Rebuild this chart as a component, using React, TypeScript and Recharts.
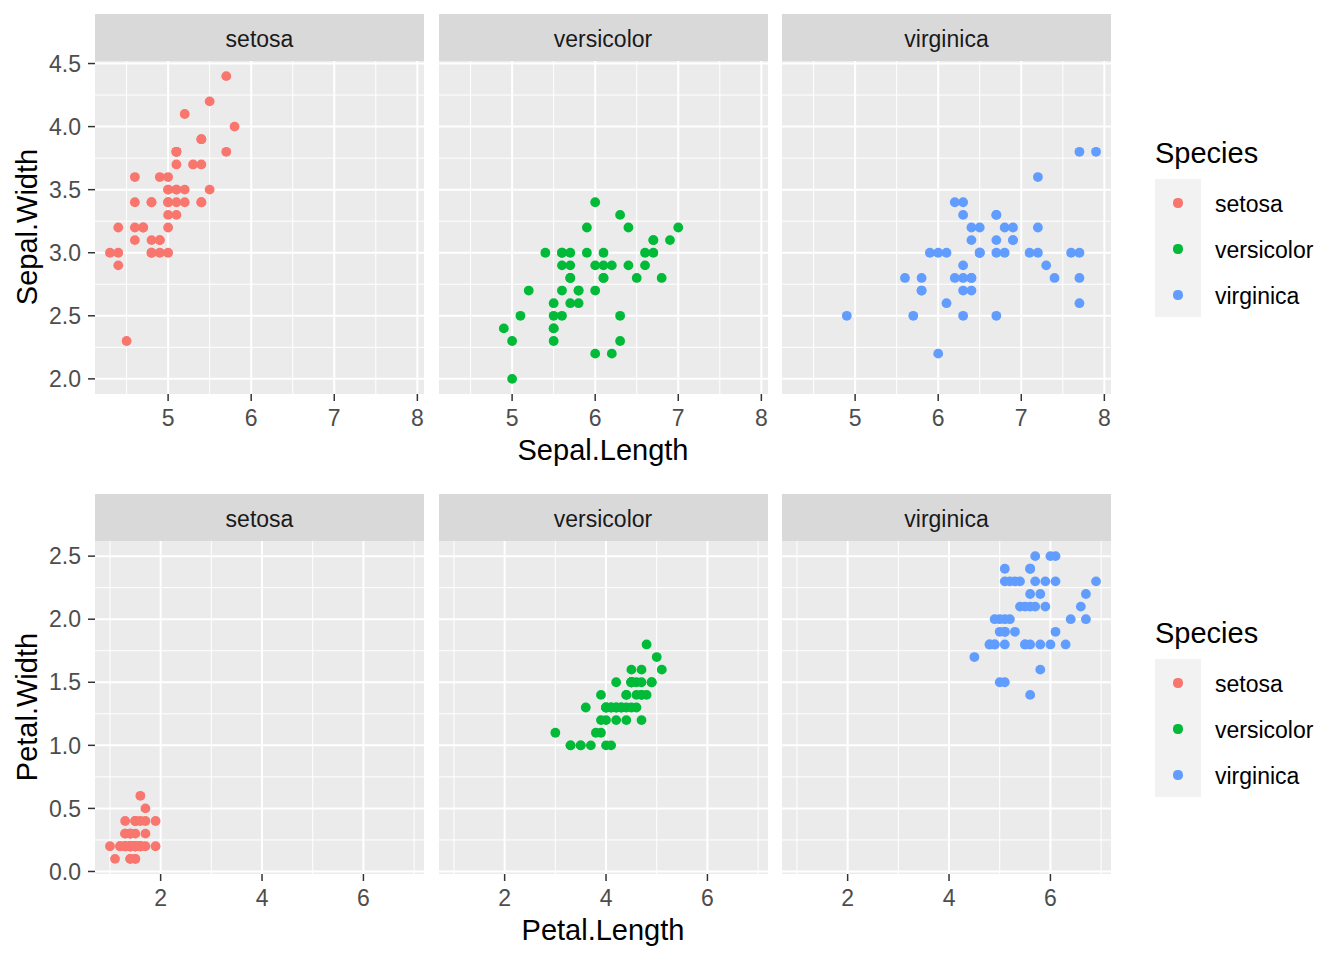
import { ScatterChart, Scatter, XAxis, YAxis, ReferenceLine } from "recharts";

const SPECIES = ["setosa", "versicolor", "virginica"];
const COLORS = ["#F8766D", "#00BA38", "#619CFF"];

const setosaSepalLength = [5.1, 4.9, 4.7, 4.6, 5.0, 5.4, 4.6, 5.0, 4.4, 4.9, 5.4, 4.8, 4.8, 4.3, 5.8, 5.7, 5.4, 5.1, 5.7, 5.1, 5.4, 5.1, 4.6, 5.1, 4.8, 5.0, 5.0, 5.2, 5.2, 4.7, 4.8, 5.4, 5.2, 5.5, 4.9, 5.0, 5.5, 4.9, 4.4, 5.1, 5.0, 4.5, 4.4, 5.0, 5.1, 4.8, 5.1, 4.6, 5.3, 5.0];
const setosaSepalWidth = [3.5, 3.0, 3.2, 3.1, 3.6, 3.9, 3.4, 3.4, 2.9, 3.1, 3.7, 3.4, 3.0, 3.0, 4.0, 4.4, 3.9, 3.5, 3.8, 3.8, 3.4, 3.7, 3.6, 3.3, 3.4, 3.0, 3.4, 3.5, 3.4, 3.2, 3.1, 3.4, 4.1, 4.2, 3.1, 3.2, 3.5, 3.6, 3.0, 3.4, 3.5, 2.3, 3.2, 3.5, 3.8, 3.0, 3.8, 3.2, 3.7, 3.3];
const setosaPetalLength = [1.4, 1.4, 1.3, 1.5, 1.4, 1.7, 1.4, 1.5, 1.4, 1.5, 1.5, 1.6, 1.4, 1.1, 1.2, 1.5, 1.3, 1.4, 1.7, 1.5, 1.7, 1.5, 1.0, 1.7, 1.9, 1.6, 1.6, 1.5, 1.4, 1.6, 1.6, 1.5, 1.5, 1.4, 1.5, 1.2, 1.3, 1.4, 1.3, 1.5, 1.3, 1.3, 1.3, 1.6, 1.9, 1.4, 1.6, 1.4, 1.5, 1.4];
const setosaPetalWidth = [0.2, 0.2, 0.2, 0.2, 0.2, 0.4, 0.3, 0.2, 0.2, 0.1, 0.2, 0.2, 0.1, 0.1, 0.2, 0.4, 0.4, 0.3, 0.3, 0.3, 0.2, 0.4, 0.2, 0.5, 0.2, 0.2, 0.4, 0.2, 0.2, 0.2, 0.2, 0.4, 0.1, 0.2, 0.2, 0.2, 0.2, 0.1, 0.2, 0.2, 0.3, 0.3, 0.2, 0.6, 0.4, 0.3, 0.2, 0.2, 0.2, 0.2];

const versicolorSepalLength = [7.0, 6.4, 6.9, 5.5, 6.5, 5.7, 6.3, 4.9, 6.6, 5.2, 5.0, 5.9, 6.0, 6.1, 5.6, 6.7, 5.6, 5.8, 6.2, 5.6, 5.9, 6.1, 6.3, 6.1, 6.4, 6.6, 6.8, 6.7, 6.0, 5.7, 5.5, 5.5, 5.8, 6.0, 5.4, 6.0, 6.7, 6.3, 5.6, 5.5, 5.5, 6.1, 5.8, 5.0, 5.6, 5.7, 5.7, 6.2, 5.1, 5.7];
const versicolorSepalWidth = [3.2, 3.2, 3.1, 2.3, 2.8, 2.8, 3.3, 2.4, 2.9, 2.7, 2.0, 3.0, 2.2, 2.9, 2.9, 3.1, 3.0, 2.7, 2.2, 2.5, 3.2, 2.8, 2.5, 2.8, 2.9, 3.0, 2.8, 3.0, 2.9, 2.6, 2.4, 2.4, 2.7, 2.7, 3.0, 3.4, 3.1, 2.3, 3.0, 2.5, 2.6, 3.0, 2.6, 2.3, 2.7, 3.0, 2.9, 2.9, 2.5, 2.8];
const versicolorPetalLength = [4.7, 4.5, 4.9, 4.0, 4.6, 4.5, 4.7, 3.3, 4.6, 3.9, 3.5, 4.2, 4.0, 4.7, 3.6, 4.4, 4.5, 4.1, 4.5, 3.9, 4.8, 4.0, 4.9, 4.7, 4.3, 4.4, 4.8, 5.0, 4.5, 3.5, 3.8, 3.7, 3.9, 5.1, 4.5, 4.5, 4.7, 4.4, 4.1, 4.0, 4.4, 4.6, 4.0, 3.3, 4.2, 4.2, 4.2, 4.3, 3.0, 4.1];
const versicolorPetalWidth = [1.4, 1.5, 1.5, 1.3, 1.5, 1.3, 1.6, 1.0, 1.3, 1.4, 1.0, 1.5, 1.0, 1.4, 1.3, 1.4, 1.5, 1.0, 1.5, 1.1, 1.8, 1.3, 1.5, 1.2, 1.3, 1.4, 1.4, 1.7, 1.5, 1.0, 1.1, 1.0, 1.2, 1.6, 1.5, 1.6, 1.5, 1.3, 1.3, 1.3, 1.2, 1.4, 1.2, 1.0, 1.3, 1.2, 1.3, 1.3, 1.1, 1.3];

const virginicaSepalLength = [6.3, 5.8, 7.1, 6.3, 6.5, 7.6, 4.9, 7.3, 6.7, 7.2, 6.5, 6.4, 6.8, 5.7, 5.8, 6.4, 6.5, 7.7, 7.7, 6.0, 6.9, 5.6, 7.7, 6.3, 6.7, 7.2, 6.2, 6.1, 6.4, 7.2, 7.4, 7.9, 6.4, 6.3, 6.1, 7.7, 6.3, 6.4, 6.0, 6.9, 6.7, 6.9, 5.8, 6.8, 6.7, 6.7, 6.3, 6.5, 6.2, 5.9];
const virginicaSepalWidth = [3.3, 2.7, 3.0, 2.9, 3.0, 3.0, 2.5, 2.9, 2.5, 3.6, 3.2, 2.7, 3.0, 2.5, 2.8, 3.2, 3.0, 3.8, 2.6, 2.2, 3.2, 2.8, 2.8, 2.7, 3.3, 3.2, 2.8, 3.0, 2.8, 3.0, 2.8, 3.8, 2.8, 2.8, 2.6, 3.0, 3.4, 3.1, 3.0, 3.1, 3.1, 3.1, 2.7, 3.2, 3.3, 3.0, 2.5, 3.0, 3.4, 3.0];
const virginicaPetalLength = [6.0, 5.1, 5.9, 5.6, 5.8, 6.6, 4.5, 6.3, 5.8, 6.1, 5.1, 5.3, 5.5, 5.0, 5.1, 5.3, 5.5, 6.7, 6.9, 5.0, 5.7, 4.9, 6.7, 4.9, 5.7, 6.0, 4.8, 4.9, 5.6, 5.8, 6.1, 6.4, 5.6, 5.1, 5.6, 6.1, 5.6, 5.5, 4.8, 5.4, 5.6, 5.1, 5.1, 5.9, 5.7, 5.2, 5.0, 5.2, 5.4, 5.1];
const virginicaPetalWidth = [2.5, 1.9, 2.1, 1.8, 2.2, 2.1, 1.7, 1.8, 1.8, 2.5, 2.0, 1.9, 2.1, 2.0, 2.4, 2.3, 1.8, 2.2, 2.3, 1.5, 2.3, 2.0, 2.0, 1.8, 2.1, 1.8, 1.8, 1.8, 2.1, 1.6, 1.9, 2.0, 2.2, 1.5, 1.4, 2.3, 2.4, 1.8, 1.8, 2.1, 2.4, 2.3, 1.9, 2.3, 2.5, 2.3, 1.9, 2.0, 2.3, 1.8];

// axis ticks / limits (ggplot default 5% expansion)
const sepalXTicks = [5, 6, 7, 8];
const sepalXMinor = [4.5, 5.5, 6.5, 7.5];
const sepalYTicks = [2.0, 2.5, 3.0, 3.5, 4.0, 4.5];
const sepalYMinor = [2.25, 2.75, 3.25, 3.75, 4.25];
const sepalXDomain = [4.12, 8.08];
const sepalYDomain = [1.88, 4.52];

const petalXTicks = [2, 4, 6];
const petalXMinor = [1, 3, 5, 7];
const petalYTicks = [0.0, 0.5, 1.0, 1.5, 2.0, 2.5];
const petalYMinor = [0.25, 0.75, 1.25, 1.75, 2.25];
const petalXDomain = [0.705, 7.195];
const petalYDomain = [-0.02, 2.62];

const FONT = "'Liberation Sans', Arial, Helvetica, sans-serif";
const PANEL_LEFTS = [95, 438.5, 782];
const PANEL_W = 329;
const PANEL_H = 333;
const STRIP_H = 46.5;
const AXIS_H = 60;
const PAD_TOP = 20;

const zip = (xs: number[], ys: number[]) => xs.map((x, i) => ({ x, y: ys[i] }));

interface FacetRowProps {
  top: number;
  xTitle: string;
  yTitle: string;
  xs: number[][];
  ys: number[][];
  xTicks: number[];
  xMinor: number[];
  yTicks: number[];
  yMinor: number[];
  xDomain: number[];
  yDomain: number[];
}

const FacetRow = (p: FacetRowProps) => {
  const panelTop = p.top + 14 + STRIP_H;
  return (
    <>
      {SPECIES.map((name, i) => {
        const left = PANEL_LEFTS[i];
        const withY = i === 0;
        const chartLeft = withY ? 0 : left;
        const chartW = withY ? left + PANEL_W : PANEL_W;
        return (
          <div key={name}>
            <div
              style={{
                position: "absolute", left, top: p.top + 14, width: PANEL_W, height: STRIP_H,
                background: "#D9D9D9", color: "#1A1A1A", fontSize: 23, lineHeight: STRIP_H + 4 + "px",
                textAlign: "center",
              }}
            >
              {name}
            </div>
            <div style={{ position: "absolute", left, top: panelTop, width: PANEL_W, height: PANEL_H, background: "#EBEBEB" }} />
            <div style={{ position: "absolute", left: chartLeft, top: panelTop - PAD_TOP }}>
              <ScatterChart width={chartW} height={PANEL_H + AXIS_H + PAD_TOP} margin={{ top: PAD_TOP, right: 0, bottom: 0, left: 0 }}>
                <XAxis
                  type="number" dataKey="x" domain={p.xDomain} ticks={p.xTicks} allowDataOverflow interval={0}
                  height={AXIS_H} axisLine={false} tickSize={7} tickMargin={9}
                  tickLine={{ stroke: "#333333", strokeWidth: 1.5 }}
                  tick={{ fill: "#4D4D4D", fontSize: 23, fontFamily: FONT }}
                />
                <YAxis
                  type="number" dataKey="y" domain={p.yDomain} ticks={p.yTicks} allowDataOverflow interval={0}
                  hide={!withY} width={left} axisLine={false} tickSize={7} tickMargin={7}
                  tickFormatter={(v: number) => v.toFixed(1)}
                  tickLine={{ stroke: "#333333", strokeWidth: 1.5 }}
                  tick={{ fill: "#4D4D4D", fontSize: 23, fontFamily: FONT }}
                />
                {p.xMinor.map((v) => <ReferenceLine key={"xm" + v} x={v} stroke="#FFFFFF" strokeWidth={1} />)}
                {p.yMinor.map((v) => <ReferenceLine key={"ym" + v} y={v} stroke="#FFFFFF" strokeWidth={1} />)}
                {p.xTicks.map((v) => <ReferenceLine key={"x" + v} x={v} stroke="#FFFFFF" strokeWidth={2} />)}
                {p.yTicks.map((v) => <ReferenceLine key={"y" + v} y={v} stroke="#FFFFFF" strokeWidth={2} />)}
                <Scatter
                  data={zip(p.xs[i], p.ys[i])}
                  fill={COLORS[i]}
                  isAnimationActive={false}
                  shape={(s: any) => <circle cx={s.cx} cy={s.cy} r={4.9} fill={COLORS[i]} />}
                />
              </ScatterChart>
            </div>
          </div>
        );
      })}
      <div
        style={{
          position: "absolute", left: PANEL_LEFTS[0], width: PANEL_LEFTS[2] + PANEL_W - PANEL_LEFTS[0],
          top: p.top + 433, height: 34, lineHeight: "34px", textAlign: "center", fontSize: 29, color: "#000",
        }}
      >
        {p.xTitle}
      </div>
      <div
        style={{
          position: "absolute", left: 27 - 150, top: panelTop + PANEL_H / 2 - 17, width: 300, height: 34,
          lineHeight: "34px", textAlign: "center", fontSize: 29, color: "#000", transform: "rotate(-90deg)",
        }}
      >
        {p.yTitle}
      </div>
      <div style={{ position: "absolute", left: 1155, top: p.top + 136, height: 34, lineHeight: "34px", fontSize: 29 }}>
        Species
      </div>
      <div style={{ position: "absolute", left: 1155, top: p.top + 179, width: 46, height: 138, background: "#F2F2F2" }} />
      {SPECIES.map((name, i) => (
        <div key={"lg" + name}>
          <div
            style={{
              position: "absolute", left: 1178 - 4.6, top: p.top + 203 + i * 46 - 4.6, width: 9.2, height: 9.2,
              borderRadius: "50%", background: COLORS[i],
            }}
          />
          <div
            style={{
              position: "absolute", left: 1215, top: p.top + 204 + i * 46 - 15, height: 30, lineHeight: "30px",
              fontSize: 23, color: "#000",
            }}
          >
            {name}
          </div>
        </div>
      ))}
    </>
  );
};

export default function App() {
  return (
    <div
      style={{
        position: "absolute", left: 0, top: 0, width: 1344, height: 960, background: "#FFFFFF",
        fontFamily: FONT, overflow: "hidden",
      }}
    >
      <FacetRow
        top={0}
        xTitle="Sepal.Length"
        yTitle="Sepal.Width"
        xs={[setosaSepalLength, versicolorSepalLength, virginicaSepalLength]}
        ys={[setosaSepalWidth, versicolorSepalWidth, virginicaSepalWidth]}
        xTicks={sepalXTicks}
        xMinor={sepalXMinor}
        yTicks={sepalYTicks}
        yMinor={sepalYMinor}
        xDomain={sepalXDomain}
        yDomain={sepalYDomain}
      />
      <FacetRow
        top={480}
        xTitle="Petal.Length"
        yTitle="Petal.Width"
        xs={[setosaPetalLength, versicolorPetalLength, virginicaPetalLength]}
        ys={[setosaPetalWidth, versicolorPetalWidth, virginicaPetalWidth]}
        xTicks={petalXTicks}
        xMinor={petalXMinor}
        yTicks={petalYTicks}
        yMinor={petalYMinor}
        xDomain={petalXDomain}
        yDomain={petalYDomain}
      />
    </div>
  );
}
